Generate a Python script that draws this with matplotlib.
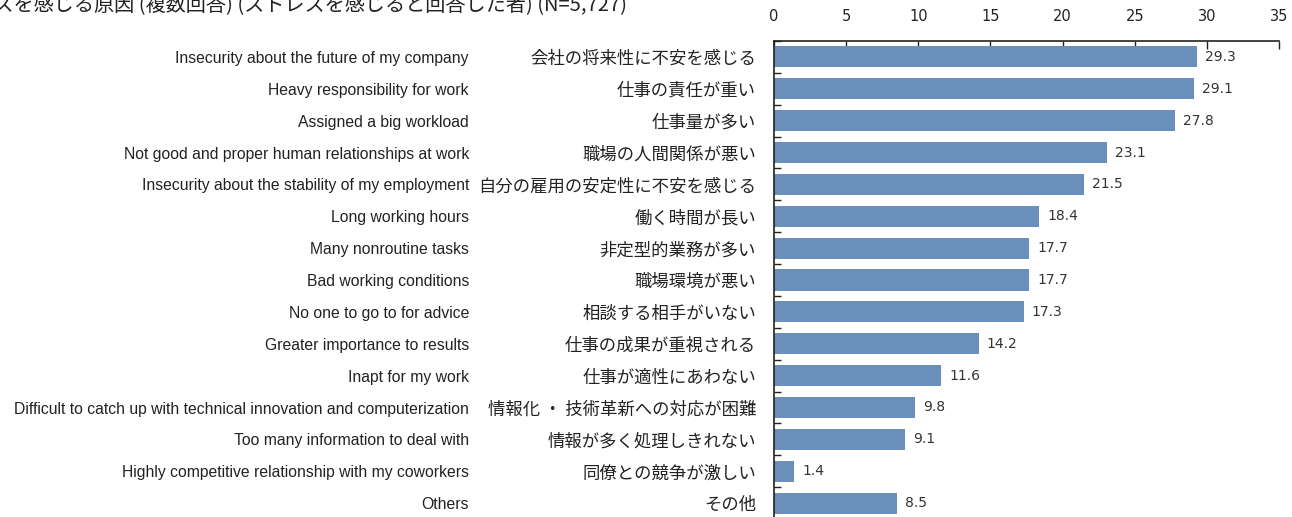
import matplotlib
matplotlib.use("Agg")
import matplotlib.pyplot as plt
import matplotlib.transforms as mtransforms
import numpy as np

plt.rcParams['font.family'] = ['Noto Sans CJK JP', 'DejaVu Sans']

title = "ストレスを感じる原因 (複数回答) (ストレスを感じると回答した者) (N=5,727)"
labels_ja = ["会社の将来性に不安を感じる", "仕事の責任が重い", "仕事量が多い", "職場の人間関係が悪い",
             "自分の雇用の安定性に不安を感じる", "働く時間が長い", "非定型的業務が多い", "職場環境が悪い",
             "相談する相手がいない", "仕事の成果が重視される", "仕事が適性にあわない",
             "情報化 ・ 技術革新への対応が困難", "情報が多く処理しきれない", "同僚との競争が激しい", "その他"]
labels_en = ["Insecurity about the future of my company", "Heavy responsibility for work",
             "Assigned a big workload", "Not good and proper human relationships at work",
             "Insecurity about the stability of my employment", "Long working hours",
             "Many nonroutine tasks", "Bad working conditions", "No one to go to for advice",
             "Greater importance to results", "Inapt for my work",
             "Difficult to catch up with technical innovation and computerization",
             "Too many information to deal with", "Highly competitive relationship with my coworkers",
             "Others"]
values = [29.3, 29.1, 27.8, 23.1, 21.5, 18.4, 17.7, 17.7, 17.3, 14.2, 11.6, 9.8, 9.1, 1.4, 8.5]
xticks = [0, 5, 10, 15, 20, 25, 30, 35]

W, H = 1292, 517
fig = plt.figure(figsize=(W / 100, H / 100), dpi=100)
left, right, top, bottom = 774 / W, 1279 / W, 1 - 41 / H, 1 - 519 / H
ax = fig.add_axes([left, bottom, right - left, top - bottom])

n = len(values)
y = np.arange(n)
ax.barh(y, values, height=0.66, color="#6b8fbb", zorder=2)
ax.set_ylim(n - 0.5, -0.5)
ax.set_xlim(0, 35)

ax.xaxis.tick_top()
ax.set_xticks(xticks)
ax.set_xticklabels([str(t) for t in xticks], fontsize=10.5, color="#222222", family="DejaVu Sans")
ax.tick_params(axis='x', direction='in', length=6, width=1, pad=12, color="#222222")

ax.set_yticks(y)
ax.set_yticklabels(labels_ja, fontsize=12.5, color="#222222")
ax.tick_params(axis='y', which='major', length=0, pad=13)
ax.set_yticks(np.arange(-0.5, n, 1), minor=True)
ax.tick_params(axis='y', which='minor', direction='in', length=5, width=1, color="#222222")

for s in ['right', 'bottom']:
    ax.spines[s].set_visible(False)
for s in ['top', 'left']:
    ax.spines[s].set_color("#222222")
    ax.spines[s].set_linewidth(1.2)

for yi, v in zip(y, values):
    ax.text(v + 0.55, yi, f"{v:.1f}", va='center', ha='left', fontsize=10, color="#333333",
            family="DejaVu Sans")

trans = mtransforms.blended_transform_factory(fig.transFigure, ax.transData)
for yi, lab in zip(y, labels_en):
    ax.text(469 / W, yi + 0.05, lab, transform=trans, ha='right', va='center',
            fontsize=11.3, color="#222222", family=['Liberation Sans', 'DejaVu Sans'])

fig.text(627 / W, 1 - 6 / H, title, ha='right', va='center', fontsize=14.5, color="#222222")

fig.savefig("out.png", dpi=100)
